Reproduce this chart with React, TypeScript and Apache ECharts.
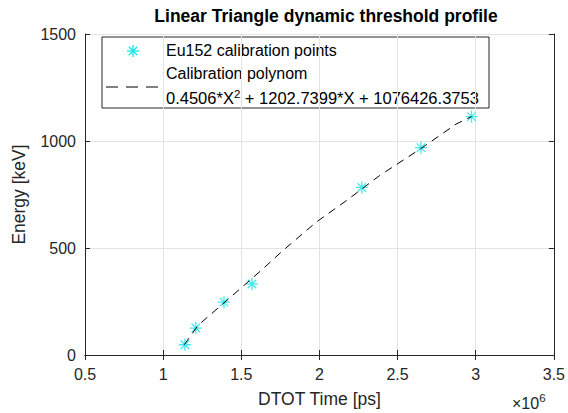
import React, { useEffect, useRef } from "react";
import * as echarts from "echarts";

// DTOT time in units of 10^6 ps, energy in keV
const pointDtot = [1.139, 1.209, 1.389, 1.568, 2.271, 2.65, 2.973];
const pointEnergy = [48, 126, 247, 332, 783, 969, 1114];

const curveDtot = [1.135, 1.224, 1.42, 1.639, 1.766, 1.98, 2.181, 2.384, 2.65, 2.874, 2.973];
const curveEnergy = [48, 139, 263, 403, 488, 621, 726, 838, 965, 1079, 1114];

const xTicks = { min: 0.5, max: 3.5, interval: 0.5 };
const yTicks = { min: 0, max: 1500, interval: 500 };

const titleText = "Linear Triangle dynamic threshold profile";
const xName = "DTOT Time [ps]";
const yName = "Energy [keV]";
const legendPoints = "Eu152 calibration points";
const legendCurve = "Calibration polynom";

const FONT = "Liberation Sans, Arial, Helvetica, sans-serif";
const AX = "#262626";
const CYAN = "#14e3e8";
const STAR = "path://M6 0V12M0 6H12M1.76 1.76L10.24 10.24M1.76 10.24L10.24 1.76";
const TICK_FS = 16;
const NAME_FS = 17.5;
const LEG_FS = 16;

export default function App() {
  const ref = useRef<HTMLDivElement>(null);
  useEffect(() => {
    if (!ref.current) return;
    const chart = echarts.init(ref.current, null, { renderer: "svg" });
    const axisCommon = {
      axisLine: { show: true, lineStyle: { color: AX, width: 1 } },
      axisTick: { show: true, inside: true, length: 5, lineStyle: { color: AX } },
    };
    chart.setOption({
      animation: false,
      backgroundColor: "#fff",
      textStyle: { fontFamily: FONT },
      title: {
        text: titleText,
        left: 321,
        top: 2,
        textAlign: "center",
        textStyle: { fontSize: 17.5, fontWeight: "bold", color: "#000", fontFamily: FONT },
      },
      grid: { left: 85, right: 13, top: 34, bottom: 56, containLabel: false },
      xAxis: [
        {
          type: "value",
          ...xTicks,
          name: xName,
          nameLocation: "middle",
          nameGap: 35,
          nameTextStyle: { fontSize: NAME_FS, color: AX, fontFamily: FONT },
          ...axisCommon,
          axisLabel: { fontSize: TICK_FS, color: AX, margin: 11, fontFamily: FONT, formatter: (v: number) => String(v) },
          splitLine: { show: true, lineStyle: { color: "#e3e3e3", width: 1 } },
        },
        {
          type: "value",
          position: "top",
          ...xTicks,
          ...axisCommon,
          axisLabel: { show: false },
          splitLine: { show: false },
        },
      ],
      yAxis: [
        {
          type: "value",
          ...yTicks,
          name: yName,
          nameLocation: "middle",
          nameGap: 57,
          nameTextStyle: { fontSize: NAME_FS, color: AX, fontFamily: FONT },
          ...axisCommon,
          axisLabel: { fontSize: TICK_FS, color: AX, margin: 9, fontFamily: FONT, formatter: (v: number) => String(v) },
          splitLine: { show: true, lineStyle: { color: "#e3e3e3", width: 1 } },
        },
        {
          type: "value",
          position: "right",
          ...yTicks,
          ...axisCommon,
          axisLabel: { show: false },
          splitLine: { show: false },
        },
      ],
      series: [
        {
          type: "scatter",
          name: legendPoints,
          data: pointDtot.map((x, i) => [x, pointEnergy[i]]),
          symbol: STAR,
          symbolSize: 12,
          itemStyle: { color: "rgba(0,0,0,0)", borderColor: CYAN, borderWidth: 1.3 },
          z: 2,
        },
        {
          type: "line",
          name: legendCurve,
          data: curveDtot.map((x, i) => [x, curveEnergy[i]]),
          showSymbol: false,
          symbol: "none",
          lineStyle: { color: "#000", width: 1, type: [8, 6] },
          z: 3,
        },
      ],
      graphic: [
        {
          type: "group",
          z: 100,
          children: [
            {
              type: "rect",
              shape: { x: 102, y: 37, width: 387, height: 71 },
              style: { fill: "#fff", stroke: AX, lineWidth: 1 },
            },
            {
              type: "group",
              x: 133,
              y: 51,
              children: [
                { type: "line", shape: { x1: 0, y1: -6, x2: 0, y2: 6 }, style: { stroke: CYAN, lineWidth: 1.3 } },
                { type: "line", shape: { x1: -6, y1: 0, x2: 6, y2: 0 }, style: { stroke: CYAN, lineWidth: 1.3 } },
                { type: "line", shape: { x1: -4.2, y1: -4.2, x2: 4.2, y2: 4.2 }, style: { stroke: CYAN, lineWidth: 1.3 } },
                { type: "line", shape: { x1: -4.2, y1: 4.2, x2: 4.2, y2: -4.2 }, style: { stroke: CYAN, lineWidth: 1.3 } },
              ],
            },
            {
              type: "line",
              shape: { x1: 106, y1: 87, x2: 162, y2: 87 },
              style: { stroke: "#000", lineWidth: 1, lineDash: [12, 8] },
            },
            {
              type: "text",
              x: 166,
              y: 50,
              style: { text: legendPoints, fontSize: LEG_FS, fill: "#000", fontFamily: FONT, verticalAlign: "middle" },
            },
            {
              type: "text",
              x: 166,
              y: 73,
              style: { text: legendCurve, fontSize: LEG_FS, fill: "#000", fontFamily: FONT, verticalAlign: "middle" },
            },
            {
              type: "text",
              x: 166,
              y: 97,
              style: {
                text: "{a|0.4506*X}{s|2}{a| + 1202.7399*X + 1076426.3753}",
                fontFamily: FONT,
                verticalAlign: "middle",
                rich: {
                  a: { fontSize: 16.5, fill: "#000", fontFamily: FONT, verticalAlign: "bottom" },
                  s: { fontSize: 11.5, fill: "#000", fontFamily: FONT, verticalAlign: "top", padding: [0, 0, 7, 0] },
                },
              },
            },
          ],
        },
        {
          type: "text",
          x: 512,
          y: 411,
          style: {
            text: "{a|×10}{s|6}",
            fontFamily: FONT,
            verticalAlign: "bottom",
            rich: {
              a: { fontSize: TICK_FS, fill: AX, fontFamily: FONT, verticalAlign: "bottom" },
              s: { fontSize: 11.5, fill: AX, fontFamily: FONT, verticalAlign: "top", padding: [0, 0, 7, 0] },
            },
          },
        },
      ],
    });
    return () => chart.dispose();
  }, []);
  return (
    <div
      ref={ref}
      style={{ width: 568, height: 413, position: "absolute", left: 0, top: 0 }}
    />
  );
}
